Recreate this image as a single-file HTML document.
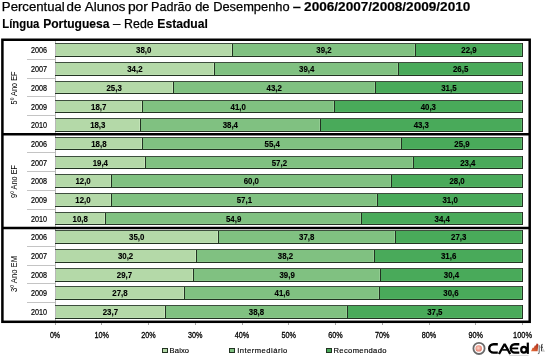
<!DOCTYPE html><html><head><meta charset="utf-8"><style>html,body{margin:0;padding:0;background:#fff;width:550px;height:358px;overflow:hidden}svg{display:block;will-change:transform}text{font-family:"Liberation Sans",sans-serif}</style></head><body><svg width="550" height="358" viewBox="0 0 550 358"><text x="1.88" y="10.90" font-size="12" fill="#000" stroke="#000" stroke-width="0.25" textLength="62.91" lengthAdjust="spacingAndGlyphs">Percentual</text><text x="66.54" y="10.90" font-size="12" fill="#000" stroke="#000" stroke-width="0.25" textLength="14.86" lengthAdjust="spacingAndGlyphs">de</text><text x="84.80" y="10.90" font-size="12" fill="#000" stroke="#000" stroke-width="0.25" textLength="40.70" lengthAdjust="spacingAndGlyphs">Alunos</text><text x="127.94" y="10.90" font-size="12" fill="#000" stroke="#000" stroke-width="0.25" textLength="19.97" lengthAdjust="spacingAndGlyphs">por</text><text x="151.12" y="10.90" font-size="12" fill="#000" stroke="#000" stroke-width="0.25" textLength="40.46" lengthAdjust="spacingAndGlyphs">Padrão</text><text x="195.16" y="10.90" font-size="12" fill="#000" stroke="#000" stroke-width="0.25" textLength="14.32" lengthAdjust="spacingAndGlyphs">de</text><text x="213.20" y="10.90" font-size="12" fill="#000" stroke="#000" stroke-width="0.25" textLength="76.42" lengthAdjust="spacingAndGlyphs">Desempenho</text><text x="292.70" y="10.90" font-size="12" font-weight="bold" fill="#000" stroke="#000" stroke-width="0.15" textLength="8.13" lengthAdjust="spacingAndGlyphs">–</text><text x="304.12" y="10.90" font-size="12" font-weight="bold" fill="#000" stroke="#000" stroke-width="0.15" textLength="166.24" lengthAdjust="spacingAndGlyphs">2006/2007/2008/2009/2010</text><text x="2.29" y="28.20" font-size="12" font-weight="bold" fill="#000" stroke="#000" stroke-width="0.15" textLength="37.04" lengthAdjust="spacingAndGlyphs">Língua</text><text x="43.15" y="28.20" font-size="12" font-weight="bold" fill="#000" stroke="#000" stroke-width="0.15" textLength="66.32" lengthAdjust="spacingAndGlyphs">Portuguesa</text><text x="113.00" y="28.20" font-size="12" fill="#000" stroke="#000" stroke-width="0.25" textLength="7.33" lengthAdjust="spacingAndGlyphs">–</text><text x="124.13" y="28.20" font-size="12" fill="#000" stroke="#000" stroke-width="0.25" textLength="29.52" lengthAdjust="spacingAndGlyphs">Rede</text><text x="157.34" y="28.20" font-size="12" font-weight="bold" fill="#000" stroke="#000" stroke-width="0.15" textLength="50.53" lengthAdjust="spacingAndGlyphs">Estadual</text><rect x="55" y="41" width="1" height="280" fill="#b8b8b8"/><rect x="27" y="59" width="28" height="1" fill="#c4c4c4"/><text x="39" y="53.20" font-size="8.7" text-anchor="middle" fill="#000" stroke="#000" stroke-width="0.2" textLength="16" lengthAdjust="spacingAndGlyphs">2006</text><rect x="56" y="44" width="176" height="12" fill="#b4d9a8"/><rect x="231" y="44" width="1" height="12" fill="#c4e4b9"/><rect x="56" y="55" width="176" height="1" fill="#c4e4b9" opacity="0.5"/><rect x="232" y="43" width="1" height="14" fill="#223322"/><rect x="55" y="43" width="177" height="1" fill="#3e4e3e"/><rect x="55" y="56" width="177" height="1" fill="#223322"/><text x="143.74" y="52.70" font-size="8.2" font-weight="bold" text-anchor="middle" fill="#000" stroke="#000" stroke-width="0.12" textLength="15.3" lengthAdjust="spacingAndGlyphs">38,0</text><rect x="233" y="44" width="182" height="12" fill="#80c181"/><rect x="414" y="44" width="1" height="12" fill="#93cc93"/><rect x="233" y="55" width="182" height="1" fill="#93cc93" opacity="0.5"/><rect x="415" y="43" width="1" height="14" fill="#223322"/><rect x="232" y="43" width="183" height="1" fill="#3e4e3e"/><rect x="232" y="56" width="183" height="1" fill="#223322"/><text x="324.01" y="52.70" font-size="8.2" font-weight="bold" text-anchor="middle" fill="#000" stroke="#000" stroke-width="0.12" textLength="15.3" lengthAdjust="spacingAndGlyphs">39,2</text><rect x="416" y="44" width="106" height="12" fill="#49aa5a"/><rect x="521" y="44" width="1" height="12" fill="#5db76c"/><rect x="416" y="55" width="106" height="1" fill="#5db76c" opacity="0.5"/><rect x="522" y="43" width="1" height="14" fill="#223322"/><rect x="415" y="43" width="107" height="1" fill="#3e4e3e"/><rect x="415" y="56" width="107" height="1" fill="#223322"/><text x="469.02" y="52.70" font-size="8.2" font-weight="bold" text-anchor="middle" fill="#000" stroke="#000" stroke-width="0.12" textLength="15.3" lengthAdjust="spacingAndGlyphs">22,9</text><rect x="27" y="78" width="28" height="1" fill="#c4c4c4"/><text x="39" y="72.20" font-size="8.7" text-anchor="middle" fill="#000" stroke="#000" stroke-width="0.2" textLength="16" lengthAdjust="spacingAndGlyphs">2007</text><rect x="56" y="63" width="158" height="12" fill="#b4d9a8"/><rect x="213" y="63" width="1" height="12" fill="#c4e4b9"/><rect x="56" y="74" width="158" height="1" fill="#c4e4b9" opacity="0.5"/><rect x="214" y="62" width="1" height="14" fill="#223322"/><rect x="55" y="62" width="159" height="1" fill="#3e4e3e"/><rect x="55" y="75" width="159" height="1" fill="#223322"/><text x="134.86" y="71.70" font-size="8.2" font-weight="bold" text-anchor="middle" fill="#000" stroke="#000" stroke-width="0.12" textLength="15.3" lengthAdjust="spacingAndGlyphs">34,2</text><rect x="215" y="63" width="183" height="12" fill="#80c181"/><rect x="397" y="63" width="1" height="12" fill="#93cc93"/><rect x="215" y="74" width="183" height="1" fill="#93cc93" opacity="0.5"/><rect x="398" y="62" width="1" height="14" fill="#223322"/><rect x="214" y="62" width="184" height="1" fill="#3e4e3e"/><rect x="214" y="75" width="184" height="1" fill="#223322"/><text x="306.73" y="71.70" font-size="8.2" font-weight="bold" text-anchor="middle" fill="#000" stroke="#000" stroke-width="0.12" textLength="15.3" lengthAdjust="spacingAndGlyphs">39,4</text><rect x="399" y="63" width="123" height="12" fill="#49aa5a"/><rect x="521" y="63" width="1" height="12" fill="#5db76c"/><rect x="399" y="74" width="123" height="1" fill="#5db76c" opacity="0.5"/><rect x="522" y="62" width="1" height="14" fill="#223322"/><rect x="398" y="62" width="124" height="1" fill="#3e4e3e"/><rect x="398" y="75" width="124" height="1" fill="#223322"/><text x="460.62" y="71.70" font-size="8.2" font-weight="bold" text-anchor="middle" fill="#000" stroke="#000" stroke-width="0.12" textLength="15.3" lengthAdjust="spacingAndGlyphs">26,5</text><rect x="27" y="96" width="28" height="1" fill="#c4c4c4"/><text x="39" y="91.20" font-size="8.7" text-anchor="middle" fill="#000" stroke="#000" stroke-width="0.2" textLength="16" lengthAdjust="spacingAndGlyphs">2008</text><rect x="56" y="82" width="117" height="11" fill="#b4d9a8"/><rect x="172" y="82" width="1" height="11" fill="#c4e4b9"/><rect x="56" y="92" width="117" height="1" fill="#c4e4b9" opacity="0.5"/><rect x="173" y="81" width="1" height="13" fill="#223322"/><rect x="55" y="81" width="118" height="1" fill="#3e4e3e"/><rect x="55" y="93" width="118" height="1" fill="#223322"/><text x="114.14" y="90.70" font-size="8.2" font-weight="bold" text-anchor="middle" fill="#000" stroke="#000" stroke-width="0.12" textLength="15.3" lengthAdjust="spacingAndGlyphs">25,3</text><rect x="174" y="82" width="201" height="11" fill="#80c181"/><rect x="374" y="82" width="1" height="11" fill="#93cc93"/><rect x="174" y="92" width="201" height="1" fill="#93cc93" opacity="0.5"/><rect x="375" y="81" width="1" height="13" fill="#223322"/><rect x="173" y="81" width="202" height="1" fill="#3e4e3e"/><rect x="173" y="93" width="202" height="1" fill="#223322"/><text x="274.26" y="90.70" font-size="8.2" font-weight="bold" text-anchor="middle" fill="#000" stroke="#000" stroke-width="0.12" textLength="15.3" lengthAdjust="spacingAndGlyphs">43,2</text><rect x="376" y="82" width="146" height="11" fill="#49aa5a"/><rect x="521" y="82" width="1" height="11" fill="#5db76c"/><rect x="376" y="92" width="146" height="1" fill="#5db76c" opacity="0.5"/><rect x="522" y="81" width="1" height="13" fill="#223322"/><rect x="375" y="81" width="147" height="1" fill="#3e4e3e"/><rect x="375" y="93" width="147" height="1" fill="#223322"/><text x="448.87" y="90.70" font-size="8.2" font-weight="bold" text-anchor="middle" fill="#000" stroke="#000" stroke-width="0.12" textLength="15.3" lengthAdjust="spacingAndGlyphs">31,5</text><rect x="27" y="115" width="28" height="1" fill="#c4c4c4"/><text x="39" y="110.20" font-size="8.7" text-anchor="middle" fill="#000" stroke="#000" stroke-width="0.2" textLength="16" lengthAdjust="spacingAndGlyphs">2009</text><rect x="56" y="101" width="86" height="11" fill="#b4d9a8"/><rect x="141" y="101" width="1" height="11" fill="#c4e4b9"/><rect x="56" y="111" width="86" height="1" fill="#c4e4b9" opacity="0.5"/><rect x="142" y="100" width="1" height="13" fill="#223322"/><rect x="55" y="100" width="87" height="1" fill="#3e4e3e"/><rect x="55" y="112" width="87" height="1" fill="#223322"/><text x="98.71" y="109.70" font-size="8.2" font-weight="bold" text-anchor="middle" fill="#000" stroke="#000" stroke-width="0.12" textLength="15.3" lengthAdjust="spacingAndGlyphs">18,7</text><rect x="143" y="101" width="191" height="11" fill="#80c181"/><rect x="333" y="101" width="1" height="11" fill="#93cc93"/><rect x="143" y="111" width="191" height="1" fill="#93cc93" opacity="0.5"/><rect x="334" y="100" width="1" height="13" fill="#223322"/><rect x="142" y="100" width="192" height="1" fill="#3e4e3e"/><rect x="142" y="112" width="192" height="1" fill="#223322"/><text x="238.26" y="109.70" font-size="8.2" font-weight="bold" text-anchor="middle" fill="#000" stroke="#000" stroke-width="0.12" textLength="15.3" lengthAdjust="spacingAndGlyphs">41,0</text><rect x="335" y="101" width="187" height="11" fill="#49aa5a"/><rect x="521" y="101" width="1" height="11" fill="#5db76c"/><rect x="335" y="111" width="187" height="1" fill="#5db76c" opacity="0.5"/><rect x="522" y="100" width="1" height="13" fill="#223322"/><rect x="334" y="100" width="188" height="1" fill="#3e4e3e"/><rect x="334" y="112" width="188" height="1" fill="#223322"/><text x="428.30" y="109.70" font-size="8.2" font-weight="bold" text-anchor="middle" fill="#000" stroke="#000" stroke-width="0.12" textLength="15.3" lengthAdjust="spacingAndGlyphs">40,3</text><text x="39" y="128.20" font-size="8.7" text-anchor="middle" fill="#000" stroke="#000" stroke-width="0.2" textLength="16" lengthAdjust="spacingAndGlyphs">2010</text><rect x="56" y="119" width="84" height="12" fill="#b4d9a8"/><rect x="139" y="119" width="1" height="12" fill="#c4e4b9"/><rect x="56" y="130" width="84" height="1" fill="#c4e4b9" opacity="0.5"/><rect x="140" y="118" width="1" height="14" fill="#223322"/><rect x="55" y="118" width="85" height="1" fill="#3e4e3e"/><rect x="55" y="131" width="85" height="1" fill="#223322"/><text x="97.78" y="127.70" font-size="8.2" font-weight="bold" text-anchor="middle" fill="#000" stroke="#000" stroke-width="0.12" textLength="15.3" lengthAdjust="spacingAndGlyphs">18,3</text><rect x="141" y="119" width="179" height="12" fill="#80c181"/><rect x="319" y="119" width="1" height="12" fill="#93cc93"/><rect x="141" y="130" width="179" height="1" fill="#93cc93" opacity="0.5"/><rect x="320" y="118" width="1" height="14" fill="#223322"/><rect x="140" y="118" width="180" height="1" fill="#3e4e3e"/><rect x="140" y="131" width="180" height="1" fill="#223322"/><text x="230.31" y="127.70" font-size="8.2" font-weight="bold" text-anchor="middle" fill="#000" stroke="#000" stroke-width="0.12" textLength="15.3" lengthAdjust="spacingAndGlyphs">38,4</text><rect x="321" y="119" width="201" height="12" fill="#49aa5a"/><rect x="521" y="119" width="1" height="12" fill="#5db76c"/><rect x="321" y="130" width="201" height="1" fill="#5db76c" opacity="0.5"/><rect x="522" y="118" width="1" height="14" fill="#223322"/><rect x="320" y="118" width="202" height="1" fill="#3e4e3e"/><rect x="320" y="131" width="202" height="1" fill="#223322"/><text x="421.29" y="127.70" font-size="8.2" font-weight="bold" text-anchor="middle" fill="#000" stroke="#000" stroke-width="0.12" textLength="15.3" lengthAdjust="spacingAndGlyphs">43,3</text><text x="17.2" y="87.90" font-size="8.8" text-anchor="middle" fill="#000" textLength="33" lengthAdjust="spacingAndGlyphs" transform="rotate(-90 17.2 87.90)">5º Ano EF</text><rect x="27" y="152" width="28" height="1" fill="#c4c4c4"/><text x="39" y="147.20" font-size="8.7" text-anchor="middle" fill="#000" stroke="#000" stroke-width="0.2" textLength="16" lengthAdjust="spacingAndGlyphs">2006</text><rect x="56" y="138" width="86" height="11" fill="#b4d9a8"/><rect x="141" y="138" width="1" height="11" fill="#c4e4b9"/><rect x="56" y="148" width="86" height="1" fill="#c4e4b9" opacity="0.5"/><rect x="142" y="137" width="1" height="13" fill="#223322"/><rect x="55" y="137" width="87" height="1" fill="#3e4e3e"/><rect x="55" y="149" width="87" height="1" fill="#223322"/><text x="98.90" y="146.70" font-size="8.2" font-weight="bold" text-anchor="middle" fill="#000" stroke="#000" stroke-width="0.12" textLength="15.3" lengthAdjust="spacingAndGlyphs">18,8</text><rect x="143" y="138" width="258" height="11" fill="#80c181"/><rect x="400" y="138" width="1" height="11" fill="#93cc93"/><rect x="143" y="148" width="258" height="1" fill="#93cc93" opacity="0.5"/><rect x="401" y="137" width="1" height="13" fill="#223322"/><rect x="142" y="137" width="259" height="1" fill="#3e4e3e"/><rect x="142" y="149" width="259" height="1" fill="#223322"/><text x="272.17" y="146.70" font-size="8.2" font-weight="bold" text-anchor="middle" fill="#000" stroke="#000" stroke-width="0.12" textLength="15.3" lengthAdjust="spacingAndGlyphs">55,4</text><rect x="402" y="138" width="120" height="11" fill="#49aa5a"/><rect x="521" y="138" width="1" height="11" fill="#5db76c"/><rect x="402" y="148" width="120" height="1" fill="#5db76c" opacity="0.5"/><rect x="522" y="137" width="1" height="13" fill="#223322"/><rect x="401" y="137" width="121" height="1" fill="#3e4e3e"/><rect x="401" y="149" width="121" height="1" fill="#223322"/><text x="462.02" y="146.70" font-size="8.2" font-weight="bold" text-anchor="middle" fill="#000" stroke="#000" stroke-width="0.12" textLength="15.3" lengthAdjust="spacingAndGlyphs">25,9</text><rect x="27" y="171" width="28" height="1" fill="#c4c4c4"/><text x="39" y="166.20" font-size="8.7" text-anchor="middle" fill="#000" stroke="#000" stroke-width="0.2" textLength="16" lengthAdjust="spacingAndGlyphs">2007</text><rect x="56" y="157" width="89" height="11" fill="#b4d9a8"/><rect x="144" y="157" width="1" height="11" fill="#c4e4b9"/><rect x="56" y="167" width="89" height="1" fill="#c4e4b9" opacity="0.5"/><rect x="145" y="156" width="1" height="13" fill="#223322"/><rect x="55" y="156" width="90" height="1" fill="#3e4e3e"/><rect x="55" y="168" width="90" height="1" fill="#223322"/><text x="100.35" y="165.70" font-size="8.2" font-weight="bold" text-anchor="middle" fill="#000" stroke="#000" stroke-width="0.12" textLength="15.3" lengthAdjust="spacingAndGlyphs">19,4</text><rect x="146" y="157" width="267" height="11" fill="#80c181"/><rect x="412" y="157" width="1" height="11" fill="#93cc93"/><rect x="146" y="167" width="267" height="1" fill="#93cc93" opacity="0.5"/><rect x="413" y="156" width="1" height="13" fill="#223322"/><rect x="145" y="156" width="268" height="1" fill="#3e4e3e"/><rect x="145" y="168" width="268" height="1" fill="#223322"/><text x="279.40" y="165.70" font-size="8.2" font-weight="bold" text-anchor="middle" fill="#000" stroke="#000" stroke-width="0.12" textLength="15.3" lengthAdjust="spacingAndGlyphs">57,2</text><rect x="414" y="157" width="108" height="11" fill="#49aa5a"/><rect x="521" y="157" width="1" height="11" fill="#5db76c"/><rect x="414" y="167" width="108" height="1" fill="#5db76c" opacity="0.5"/><rect x="522" y="156" width="1" height="13" fill="#223322"/><rect x="413" y="156" width="109" height="1" fill="#3e4e3e"/><rect x="413" y="168" width="109" height="1" fill="#223322"/><text x="467.80" y="165.70" font-size="8.2" font-weight="bold" text-anchor="middle" fill="#000" stroke="#000" stroke-width="0.12" textLength="15.3" lengthAdjust="spacingAndGlyphs">23,4</text><rect x="27" y="190" width="28" height="1" fill="#c4c4c4"/><text x="39" y="184.20" font-size="8.7" text-anchor="middle" fill="#000" stroke="#000" stroke-width="0.2" textLength="16" lengthAdjust="spacingAndGlyphs">2008</text><rect x="56" y="175" width="55" height="12" fill="#b4d9a8"/><rect x="110" y="175" width="1" height="12" fill="#c4e4b9"/><rect x="56" y="186" width="55" height="1" fill="#c4e4b9" opacity="0.5"/><rect x="111" y="174" width="1" height="14" fill="#223322"/><rect x="55" y="174" width="56" height="1" fill="#3e4e3e"/><rect x="55" y="187" width="56" height="1" fill="#223322"/><text x="83.05" y="183.70" font-size="8.2" font-weight="bold" text-anchor="middle" fill="#000" stroke="#000" stroke-width="0.12" textLength="15.3" lengthAdjust="spacingAndGlyphs">12,0</text><rect x="112" y="175" width="279" height="12" fill="#80c181"/><rect x="390" y="175" width="1" height="12" fill="#93cc93"/><rect x="112" y="186" width="279" height="1" fill="#93cc93" opacity="0.5"/><rect x="391" y="174" width="1" height="14" fill="#223322"/><rect x="111" y="174" width="280" height="1" fill="#3e4e3e"/><rect x="111" y="187" width="280" height="1" fill="#223322"/><text x="251.35" y="183.70" font-size="8.2" font-weight="bold" text-anchor="middle" fill="#000" stroke="#000" stroke-width="0.12" textLength="15.3" lengthAdjust="spacingAndGlyphs">60,0</text><rect x="392" y="175" width="130" height="12" fill="#49aa5a"/><rect x="521" y="175" width="1" height="12" fill="#5db76c"/><rect x="392" y="186" width="130" height="1" fill="#5db76c" opacity="0.5"/><rect x="522" y="174" width="1" height="14" fill="#223322"/><rect x="391" y="174" width="131" height="1" fill="#3e4e3e"/><rect x="391" y="187" width="131" height="1" fill="#223322"/><text x="457.05" y="183.70" font-size="8.2" font-weight="bold" text-anchor="middle" fill="#000" stroke="#000" stroke-width="0.12" textLength="15.3" lengthAdjust="spacingAndGlyphs">28,0</text><rect x="27" y="209" width="28" height="1" fill="#c4c4c4"/><text x="39" y="203.20" font-size="8.7" text-anchor="middle" fill="#000" stroke="#000" stroke-width="0.2" textLength="16" lengthAdjust="spacingAndGlyphs">2009</text><rect x="56" y="194" width="55" height="12" fill="#b4d9a8"/><rect x="110" y="194" width="1" height="12" fill="#c4e4b9"/><rect x="56" y="205" width="55" height="1" fill="#c4e4b9" opacity="0.5"/><rect x="111" y="193" width="1" height="14" fill="#223322"/><rect x="55" y="193" width="56" height="1" fill="#3e4e3e"/><rect x="55" y="206" width="56" height="1" fill="#223322"/><text x="83.02" y="202.70" font-size="8.2" font-weight="bold" text-anchor="middle" fill="#000" stroke="#000" stroke-width="0.12" textLength="15.3" lengthAdjust="spacingAndGlyphs">12,0</text><rect x="112" y="194" width="265" height="12" fill="#80c181"/><rect x="376" y="194" width="1" height="12" fill="#93cc93"/><rect x="112" y="205" width="265" height="1" fill="#93cc93" opacity="0.5"/><rect x="377" y="193" width="1" height="14" fill="#223322"/><rect x="111" y="193" width="266" height="1" fill="#3e4e3e"/><rect x="111" y="206" width="266" height="1" fill="#223322"/><text x="244.38" y="202.70" font-size="8.2" font-weight="bold" text-anchor="middle" fill="#000" stroke="#000" stroke-width="0.12" textLength="15.3" lengthAdjust="spacingAndGlyphs">57,1</text><rect x="378" y="194" width="144" height="12" fill="#49aa5a"/><rect x="521" y="194" width="1" height="12" fill="#5db76c"/><rect x="378" y="205" width="144" height="1" fill="#5db76c" opacity="0.5"/><rect x="522" y="193" width="1" height="14" fill="#223322"/><rect x="377" y="193" width="145" height="1" fill="#3e4e3e"/><rect x="377" y="206" width="145" height="1" fill="#223322"/><text x="450.11" y="202.70" font-size="8.2" font-weight="bold" text-anchor="middle" fill="#000" stroke="#000" stroke-width="0.12" textLength="15.3" lengthAdjust="spacingAndGlyphs">31,0</text><text x="39" y="222.20" font-size="8.7" text-anchor="middle" fill="#000" stroke="#000" stroke-width="0.2" textLength="16" lengthAdjust="spacingAndGlyphs">2010</text><rect x="56" y="213" width="49" height="11" fill="#b4d9a8"/><rect x="104" y="213" width="1" height="11" fill="#c4e4b9"/><rect x="56" y="223" width="49" height="1" fill="#c4e4b9" opacity="0.5"/><rect x="105" y="212" width="1" height="13" fill="#223322"/><rect x="55" y="212" width="50" height="1" fill="#3e4e3e"/><rect x="55" y="224" width="50" height="1" fill="#223322"/><text x="80.22" y="221.70" font-size="8.2" font-weight="bold" text-anchor="middle" fill="#000" stroke="#000" stroke-width="0.12" textLength="15.3" lengthAdjust="spacingAndGlyphs">10,8</text><rect x="106" y="213" width="255" height="11" fill="#80c181"/><rect x="360" y="213" width="1" height="11" fill="#93cc93"/><rect x="106" y="223" width="255" height="1" fill="#93cc93" opacity="0.5"/><rect x="361" y="212" width="1" height="13" fill="#223322"/><rect x="105" y="212" width="256" height="1" fill="#3e4e3e"/><rect x="105" y="224" width="256" height="1" fill="#223322"/><text x="233.64" y="221.70" font-size="8.2" font-weight="bold" text-anchor="middle" fill="#000" stroke="#000" stroke-width="0.12" textLength="15.3" lengthAdjust="spacingAndGlyphs">54,9</text><rect x="362" y="213" width="160" height="11" fill="#49aa5a"/><rect x="521" y="213" width="1" height="11" fill="#5db76c"/><rect x="362" y="223" width="160" height="1" fill="#5db76c" opacity="0.5"/><rect x="522" y="212" width="1" height="13" fill="#223322"/><rect x="361" y="212" width="161" height="1" fill="#3e4e3e"/><rect x="361" y="224" width="161" height="1" fill="#223322"/><text x="442.17" y="221.70" font-size="8.2" font-weight="bold" text-anchor="middle" fill="#000" stroke="#000" stroke-width="0.12" textLength="15.3" lengthAdjust="spacingAndGlyphs">34,4</text><text x="17.2" y="181.40" font-size="8.8" text-anchor="middle" fill="#000" textLength="33" lengthAdjust="spacingAndGlyphs" transform="rotate(-90 17.2 181.40)">9º Ano EF</text><rect x="27" y="246" width="28" height="1" fill="#c4c4c4"/><text x="39" y="240.20" font-size="8.7" text-anchor="middle" fill="#000" stroke="#000" stroke-width="0.2" textLength="16" lengthAdjust="spacingAndGlyphs">2006</text><rect x="56" y="231" width="162" height="12" fill="#b4d9a8"/><rect x="217" y="231" width="1" height="12" fill="#c4e4b9"/><rect x="56" y="242" width="162" height="1" fill="#c4e4b9" opacity="0.5"/><rect x="218" y="230" width="1" height="14" fill="#223322"/><rect x="55" y="230" width="163" height="1" fill="#3e4e3e"/><rect x="55" y="243" width="163" height="1" fill="#223322"/><text x="136.73" y="239.70" font-size="8.2" font-weight="bold" text-anchor="middle" fill="#000" stroke="#000" stroke-width="0.12" textLength="15.3" lengthAdjust="spacingAndGlyphs">35,0</text><rect x="219" y="231" width="176" height="12" fill="#80c181"/><rect x="394" y="231" width="1" height="12" fill="#93cc93"/><rect x="219" y="242" width="176" height="1" fill="#93cc93" opacity="0.5"/><rect x="395" y="230" width="1" height="14" fill="#223322"/><rect x="218" y="230" width="177" height="1" fill="#3e4e3e"/><rect x="218" y="243" width="177" height="1" fill="#223322"/><text x="306.73" y="239.70" font-size="8.2" font-weight="bold" text-anchor="middle" fill="#000" stroke="#000" stroke-width="0.12" textLength="15.3" lengthAdjust="spacingAndGlyphs">37,8</text><rect x="396" y="231" width="126" height="12" fill="#49aa5a"/><rect x="521" y="231" width="1" height="12" fill="#5db76c"/><rect x="396" y="242" width="126" height="1" fill="#5db76c" opacity="0.5"/><rect x="522" y="230" width="1" height="14" fill="#223322"/><rect x="395" y="230" width="127" height="1" fill="#3e4e3e"/><rect x="395" y="243" width="127" height="1" fill="#223322"/><text x="458.75" y="239.70" font-size="8.2" font-weight="bold" text-anchor="middle" fill="#000" stroke="#000" stroke-width="0.12" textLength="15.3" lengthAdjust="spacingAndGlyphs">27,3</text><rect x="27" y="265" width="28" height="1" fill="#c4c4c4"/><text x="39" y="259.20" font-size="8.7" text-anchor="middle" fill="#000" stroke="#000" stroke-width="0.2" textLength="16" lengthAdjust="spacingAndGlyphs">2007</text><rect x="56" y="250" width="140" height="12" fill="#b4d9a8"/><rect x="195" y="250" width="1" height="12" fill="#c4e4b9"/><rect x="56" y="261" width="140" height="1" fill="#c4e4b9" opacity="0.5"/><rect x="196" y="249" width="1" height="14" fill="#223322"/><rect x="55" y="249" width="141" height="1" fill="#3e4e3e"/><rect x="55" y="262" width="141" height="1" fill="#223322"/><text x="125.59" y="258.70" font-size="8.2" font-weight="bold" text-anchor="middle" fill="#000" stroke="#000" stroke-width="0.12" textLength="15.3" lengthAdjust="spacingAndGlyphs">30,2</text><rect x="197" y="250" width="177" height="12" fill="#80c181"/><rect x="373" y="250" width="1" height="12" fill="#93cc93"/><rect x="197" y="261" width="177" height="1" fill="#93cc93" opacity="0.5"/><rect x="374" y="249" width="1" height="14" fill="#223322"/><rect x="196" y="249" width="178" height="1" fill="#3e4e3e"/><rect x="196" y="262" width="178" height="1" fill="#223322"/><text x="285.48" y="258.70" font-size="8.2" font-weight="bold" text-anchor="middle" fill="#000" stroke="#000" stroke-width="0.12" textLength="15.3" lengthAdjust="spacingAndGlyphs">38,2</text><rect x="375" y="250" width="147" height="12" fill="#49aa5a"/><rect x="521" y="250" width="1" height="12" fill="#5db76c"/><rect x="375" y="261" width="147" height="1" fill="#5db76c" opacity="0.5"/><rect x="522" y="249" width="1" height="14" fill="#223322"/><rect x="374" y="249" width="148" height="1" fill="#3e4e3e"/><rect x="374" y="262" width="148" height="1" fill="#223322"/><text x="448.63" y="258.70" font-size="8.2" font-weight="bold" text-anchor="middle" fill="#000" stroke="#000" stroke-width="0.12" textLength="15.3" lengthAdjust="spacingAndGlyphs">31,6</text><rect x="27" y="283" width="28" height="1" fill="#c4c4c4"/><text x="39" y="278.20" font-size="8.7" text-anchor="middle" fill="#000" stroke="#000" stroke-width="0.2" textLength="16" lengthAdjust="spacingAndGlyphs">2008</text><rect x="56" y="269" width="137" height="12" fill="#b4d9a8"/><rect x="192" y="269" width="1" height="12" fill="#c4e4b9"/><rect x="56" y="280" width="137" height="1" fill="#c4e4b9" opacity="0.5"/><rect x="193" y="268" width="1" height="14" fill="#223322"/><rect x="55" y="268" width="138" height="1" fill="#3e4e3e"/><rect x="55" y="281" width="138" height="1" fill="#223322"/><text x="124.42" y="277.70" font-size="8.2" font-weight="bold" text-anchor="middle" fill="#000" stroke="#000" stroke-width="0.12" textLength="15.3" lengthAdjust="spacingAndGlyphs">29,7</text><rect x="194" y="269" width="186" height="12" fill="#80c181"/><rect x="379" y="269" width="1" height="12" fill="#93cc93"/><rect x="194" y="280" width="186" height="1" fill="#93cc93" opacity="0.5"/><rect x="380" y="268" width="1" height="14" fill="#223322"/><rect x="193" y="268" width="187" height="1" fill="#3e4e3e"/><rect x="193" y="281" width="187" height="1" fill="#223322"/><text x="287.11" y="277.70" font-size="8.2" font-weight="bold" text-anchor="middle" fill="#000" stroke="#000" stroke-width="0.12" textLength="15.3" lengthAdjust="spacingAndGlyphs">39,9</text><rect x="381" y="269" width="141" height="12" fill="#49aa5a"/><rect x="521" y="269" width="1" height="12" fill="#5db76c"/><rect x="381" y="280" width="141" height="1" fill="#5db76c" opacity="0.5"/><rect x="522" y="268" width="1" height="14" fill="#223322"/><rect x="380" y="268" width="142" height="1" fill="#3e4e3e"/><rect x="380" y="281" width="142" height="1" fill="#223322"/><text x="451.44" y="277.70" font-size="8.2" font-weight="bold" text-anchor="middle" fill="#000" stroke="#000" stroke-width="0.12" textLength="15.3" lengthAdjust="spacingAndGlyphs">30,4</text><rect x="27" y="302" width="28" height="1" fill="#c4c4c4"/><text x="39" y="296.20" font-size="8.7" text-anchor="middle" fill="#000" stroke="#000" stroke-width="0.2" textLength="16" lengthAdjust="spacingAndGlyphs">2009</text><rect x="56" y="287" width="128" height="12" fill="#b4d9a8"/><rect x="183" y="287" width="1" height="12" fill="#c4e4b9"/><rect x="56" y="298" width="128" height="1" fill="#c4e4b9" opacity="0.5"/><rect x="184" y="286" width="1" height="14" fill="#223322"/><rect x="55" y="286" width="129" height="1" fill="#3e4e3e"/><rect x="55" y="299" width="129" height="1" fill="#223322"/><text x="119.98" y="295.70" font-size="8.2" font-weight="bold" text-anchor="middle" fill="#000" stroke="#000" stroke-width="0.12" textLength="15.3" lengthAdjust="spacingAndGlyphs">27,8</text><rect x="185" y="287" width="194" height="12" fill="#80c181"/><rect x="378" y="287" width="1" height="12" fill="#93cc93"/><rect x="185" y="298" width="194" height="1" fill="#93cc93" opacity="0.5"/><rect x="379" y="286" width="1" height="14" fill="#223322"/><rect x="184" y="286" width="195" height="1" fill="#3e4e3e"/><rect x="184" y="299" width="195" height="1" fill="#223322"/><text x="282.21" y="295.70" font-size="8.2" font-weight="bold" text-anchor="middle" fill="#000" stroke="#000" stroke-width="0.12" textLength="15.3" lengthAdjust="spacingAndGlyphs">41,6</text><rect x="380" y="287" width="142" height="12" fill="#49aa5a"/><rect x="521" y="287" width="1" height="12" fill="#5db76c"/><rect x="380" y="298" width="142" height="1" fill="#5db76c" opacity="0.5"/><rect x="522" y="286" width="1" height="14" fill="#223322"/><rect x="379" y="286" width="143" height="1" fill="#3e4e3e"/><rect x="379" y="299" width="143" height="1" fill="#223322"/><text x="450.97" y="295.70" font-size="8.2" font-weight="bold" text-anchor="middle" fill="#000" stroke="#000" stroke-width="0.12" textLength="15.3" lengthAdjust="spacingAndGlyphs">30,6</text><text x="39" y="315.20" font-size="8.7" text-anchor="middle" fill="#000" stroke="#000" stroke-width="0.2" textLength="16" lengthAdjust="spacingAndGlyphs">2010</text><rect x="56" y="306" width="109" height="12" fill="#b4d9a8"/><rect x="164" y="306" width="1" height="12" fill="#c4e4b9"/><rect x="56" y="317" width="109" height="1" fill="#c4e4b9" opacity="0.5"/><rect x="165" y="305" width="1" height="14" fill="#223322"/><rect x="55" y="305" width="110" height="1" fill="#3e4e3e"/><rect x="55" y="318" width="110" height="1" fill="#223322"/><text x="110.40" y="314.70" font-size="8.2" font-weight="bold" text-anchor="middle" fill="#000" stroke="#000" stroke-width="0.12" textLength="15.3" lengthAdjust="spacingAndGlyphs">23,7</text><rect x="166" y="306" width="181" height="12" fill="#80c181"/><rect x="346" y="306" width="1" height="12" fill="#93cc93"/><rect x="166" y="317" width="181" height="1" fill="#93cc93" opacity="0.5"/><rect x="347" y="305" width="1" height="14" fill="#223322"/><rect x="165" y="305" width="182" height="1" fill="#3e4e3e"/><rect x="165" y="318" width="182" height="1" fill="#223322"/><text x="256.49" y="314.70" font-size="8.2" font-weight="bold" text-anchor="middle" fill="#000" stroke="#000" stroke-width="0.12" textLength="15.3" lengthAdjust="spacingAndGlyphs">38,8</text><rect x="348" y="306" width="174" height="12" fill="#49aa5a"/><rect x="521" y="306" width="1" height="12" fill="#5db76c"/><rect x="348" y="317" width="174" height="1" fill="#5db76c" opacity="0.5"/><rect x="522" y="305" width="1" height="14" fill="#223322"/><rect x="347" y="305" width="175" height="1" fill="#3e4e3e"/><rect x="347" y="318" width="175" height="1" fill="#223322"/><text x="434.84" y="314.70" font-size="8.2" font-weight="bold" text-anchor="middle" fill="#000" stroke="#000" stroke-width="0.12" textLength="15.3" lengthAdjust="spacingAndGlyphs">37,5</text><text x="17.2" y="273.90" font-size="8.8" text-anchor="middle" fill="#000" textLength="36" lengthAdjust="spacingAndGlyphs" transform="rotate(-90 17.2 273.90)">3º Ano EM</text><rect x="2.40" y="39.75" width="527.30" height="282.05" fill="none" stroke="#000" stroke-width="2.50"/><line x1="2.40" y1="134.30" x2="529.70" y2="134.30" stroke="#000" stroke-width="2.50"/><line x1="2.40" y1="228.00" x2="529.70" y2="228.00" stroke="#000" stroke-width="2.50"/><rect x="55" y="323" width="1" height="2" fill="#a0a0a0"/><text x="55.00" y="338.1" font-size="8.6" text-anchor="middle" fill="#000" stroke="#000" stroke-width="0.3" textLength="10.2" lengthAdjust="spacingAndGlyphs">0%</text><rect x="101" y="323" width="1" height="2" fill="#a0a0a0"/><text x="101.75" y="338.1" font-size="8.6" text-anchor="middle" fill="#000" stroke="#000" stroke-width="0.3" textLength="14.5" lengthAdjust="spacingAndGlyphs">10%</text><rect x="148" y="323" width="1" height="2" fill="#a0a0a0"/><text x="148.50" y="338.1" font-size="8.6" text-anchor="middle" fill="#000" stroke="#000" stroke-width="0.3" textLength="14.5" lengthAdjust="spacingAndGlyphs">20%</text><rect x="195" y="323" width="1" height="2" fill="#a0a0a0"/><text x="195.25" y="338.1" font-size="8.6" text-anchor="middle" fill="#000" stroke="#000" stroke-width="0.3" textLength="14.5" lengthAdjust="spacingAndGlyphs">30%</text><rect x="242" y="323" width="1" height="2" fill="#a0a0a0"/><text x="242.00" y="338.1" font-size="8.6" text-anchor="middle" fill="#000" stroke="#000" stroke-width="0.3" textLength="14.5" lengthAdjust="spacingAndGlyphs">40%</text><rect x="288" y="323" width="1" height="2" fill="#a0a0a0"/><text x="288.75" y="338.1" font-size="8.6" text-anchor="middle" fill="#000" stroke="#000" stroke-width="0.3" textLength="14.5" lengthAdjust="spacingAndGlyphs">50%</text><rect x="335" y="323" width="1" height="2" fill="#a0a0a0"/><text x="335.50" y="338.1" font-size="8.6" text-anchor="middle" fill="#000" stroke="#000" stroke-width="0.3" textLength="14.5" lengthAdjust="spacingAndGlyphs">60%</text><rect x="382" y="323" width="1" height="2" fill="#a0a0a0"/><text x="382.25" y="338.1" font-size="8.6" text-anchor="middle" fill="#000" stroke="#000" stroke-width="0.3" textLength="14.5" lengthAdjust="spacingAndGlyphs">70%</text><rect x="429" y="323" width="1" height="2" fill="#a0a0a0"/><text x="429.00" y="338.1" font-size="8.6" text-anchor="middle" fill="#000" stroke="#000" stroke-width="0.3" textLength="14.5" lengthAdjust="spacingAndGlyphs">80%</text><rect x="475" y="323" width="1" height="2" fill="#a0a0a0"/><text x="475.75" y="338.1" font-size="8.6" text-anchor="middle" fill="#000" stroke="#000" stroke-width="0.3" textLength="14.5" lengthAdjust="spacingAndGlyphs">90%</text><rect x="522" y="323" width="1" height="2" fill="#a0a0a0"/><text x="522.50" y="338.1" font-size="8.6" text-anchor="middle" fill="#000" stroke="#000" stroke-width="0.3" textLength="19" lengthAdjust="spacingAndGlyphs">100%</text><rect x="162" y="348" width="6" height="5" fill="#223322"/><rect x="163" y="349" width="4" height="3" fill="#b4d9a8"/><text x="169.60" y="353.2" font-size="7.6" fill="#000" stroke="#000" stroke-width="0.15" textLength="19.5" lengthAdjust="spacing">Baixo</text><rect x="229" y="348" width="6" height="5" fill="#223322"/><rect x="230" y="349" width="4" height="3" fill="#80c181"/><text x="237.20" y="353.2" font-size="7.6" fill="#000" stroke="#000" stroke-width="0.15" textLength="50.1" lengthAdjust="spacing">Intermediário</text><rect x="326" y="348" width="6" height="5" fill="#223322"/><rect x="327" y="349" width="4" height="3" fill="#49aa5a"/><text x="333.50" y="353.2" font-size="7.6" fill="#000" stroke="#000" stroke-width="0.15" textLength="53.0" lengthAdjust="spacing">Recomendado</text><defs><radialGradient id="rg" cx="0.45" cy="0.45" r="0.55"><stop offset="0" stop-color="#fbd8cc"/><stop offset="0.6" stop-color="#f0a090"/><stop offset="1" stop-color="#e07868"/></radialGradient></defs><circle cx="479" cy="348.4" r="5.6" fill="#fff" stroke="#6a6a6a" stroke-width="1.8"/><circle cx="478.7" cy="348.4" r="3.2" fill="url(#rg)"/><g fill="none" stroke="#000" stroke-width="2.4"><path d="M497.8 344.2 H493.6 A4.4 4.2 0 0 0 489.2 348.4 A4.4 4.2 0 0 0 493.6 352.6 H497.8"/><path d="M499.0 354.0 L504.6 344.0 L510.2 354.0" stroke-linejoin="bevel" stroke-width="2.3"/><path d="M502.2 349.9 H507.2" stroke-width="1.6"/><path d="M519.3 344.2 H514.8 A4.0 4.2 0 0 0 510.8 348.4 A4.0 4.2 0 0 0 514.8 352.6 H519.3"/><path d="M511 348.4 H518.2" stroke-width="1.8"/><ellipse cx="523.9" cy="349.7" rx="2.7" ry="2.9" stroke-width="2.2"/><path d="M527.8 342.6 V353.9" stroke-width="2.2"/></g><rect x="509.5" y="354.9" width="19" height="1" fill="#d8d8d8"/><defs><linearGradient id="uf" x1="0" y1="1" x2="1" y2="0"><stop offset="0" stop-color="#e8703a"/><stop offset="1" stop-color="#a82a1a"/></linearGradient></defs><path d="M531 351.2 L532.6 347.8 L533.8 347.8 L534.8 345.4 L535.8 345.4 L536.9 343.2 L538.4 344.6 L537.6 351.2 Z" fill="url(#uf)"/><path d="M539.2 345.2 V352.2 Q539.2 353.6 537.9 353.6" fill="none" stroke="#707070" stroke-width="1.1"/><path d="M542.6 344.4 Q541.6 344.4 541.6 345.6 V351.2 M540.6 347.2 H543.0" fill="none" stroke="#404040" stroke-width="1.1"/><path d="M542 351.8 L545 351.8 L543.4 348.6 Z" fill="#c8c8c8"/></svg></body></html>
